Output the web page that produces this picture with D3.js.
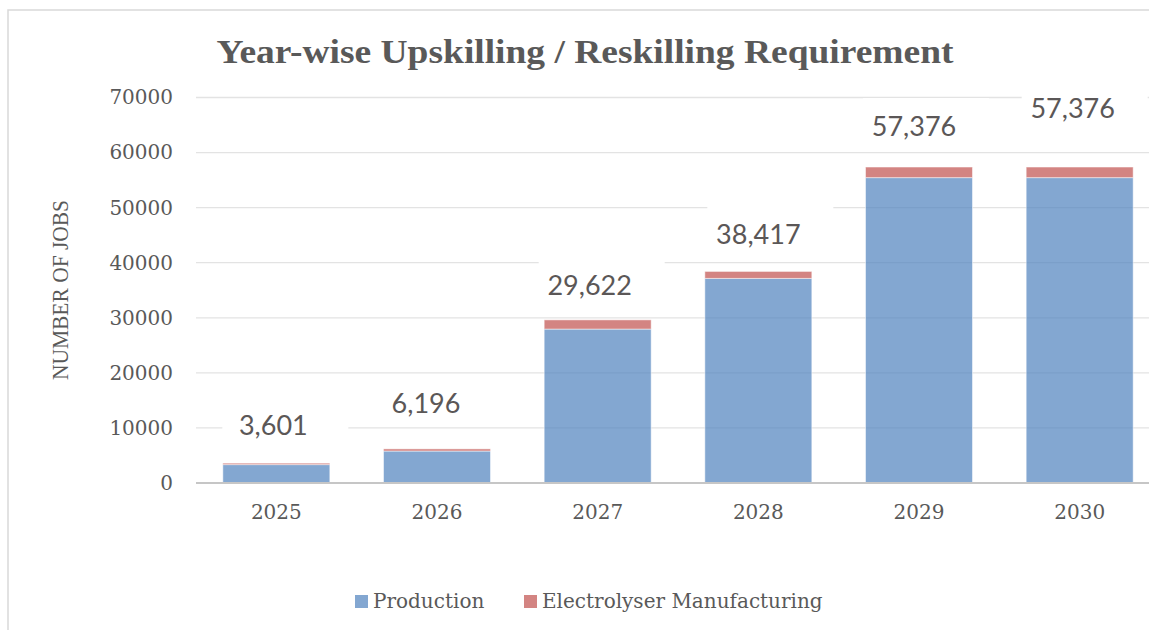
<!DOCTYPE html>
<html>
<head>
<meta charset="utf-8">
<script src="https://cdn.jsdelivr.net/npm/d3@7"></script>
<style>
  html, body { margin: 0; padding: 0; background: #fff; }
  svg { display: block; }
</style>
</head>
<body>
<svg id="chart" width="1149" height="630"></svg>
<script>
// Jobs needing upskilling / reskilling, by year and segment
const years = ["2025", "2026", "2027", "2028", "2029", "2030"];
const production = [3340, 5800, 27950, 37150, 55450, 55450];
const electrolyser = [261, 396, 1672, 1267, 1926, 1926];
const seriesNames = ["Production", "Electrolyser Manufacturing"];
const yTicks = [0, 10000, 20000, 30000, 40000, 50000, 60000, 70000];

// Hand placement of the total labels (nudges in px: dx from bar centre, lift above bar top)
const labelNudge = [
  { dx: -3, lift: 28 }, { dx: -11, lift: 36 }, { dx: -8, lift: 25 },
  { dx: 0, lift: 27 }, { dx: -5, lift: 31 }, { dx: -7, lift: 49 }
];

const colors = ["#4F81BD", "#C0504D"];
const textGrey = "#595959";

const svg = d3.select("#chart");

// Outer chart frame
svg.append("rect")
  .attr("x", 8).attr("y", 10).attr("width", 1400).attr("height", 900)
  .attr("fill", "#fff").attr("stroke", "#d9d9d9").attr("stroke-width", 1.5);

const plot = { left: 196, right: 1160, top: 97.5, bottom: 483 };

const x = d3.scaleBand().domain(years).range([plot.left, plot.right]).paddingInner(0.334).paddingOuter(0.167);
const y = d3.scaleLinear().domain([0, 70000]).range([plot.bottom, plot.top]);

// Gridlines
svg.append("g")
  .selectAll("line")
  .data(yTicks.slice(1))
  .join("line")
  .attr("x1", plot.left).attr("x2", 1149)
  .attr("y1", d => y(d)).attr("y2", d => y(d))
  .attr("stroke", "#e3e3e3").attr("stroke-width", 1.3);

// Stacked bars
const rows = years.map((yr, i) => ({ year: yr, Production: production[i], Electrolyser: electrolyser[i] }));
const stack = d3.stack().keys(["Production", "Electrolyser"]);
const layers = stack(rows);

svg.append("g")
  .selectAll("g")
  .data(layers)
  .join("g")
  .attr("fill", (d, i) => colors[i])
  .attr("fill-opacity", 0.7)
  .selectAll("rect")
  .data(d => d)
  .join("rect")
  .attr("x", d => x(d.data.year))
  .attr("width", x.bandwidth())
  .attr("y", d => y(d[1]))
  .attr("height", d => y(d[0]) - y(d[1]))
  .attr("stroke", "#ffffff").attr("stroke-opacity", 0.5).attr("stroke-width", 1);

// Category axis line
svg.append("line")
  .attr("x1", plot.left).attr("x2", 1149)
  .attr("y1", y(0)).attr("y2", y(0))
  .attr("stroke", "#c6c6c6").attr("stroke-width", 2);

// Y axis tick labels
const yAxis = d3.axisLeft(y).tickValues(yTicks).tickFormat(d3.format("d")).tickSize(0).tickPadding(23);
const gy = svg.append("g").attr("transform", `translate(${plot.left},0)`).call(yAxis);
gy.select(".domain").remove();
gy.selectAll("text")
  .attr("font-family", "'DejaVu Serif', serif").attr("font-size", 20)
  .attr("fill", textGrey);

// X axis tick labels
const xAxis = d3.axisBottom(x).tickSize(0).tickPadding(22);
const gx = svg.append("g").attr("transform", `translate(0,${y(0)})`).call(xAxis);
gx.select(".domain").remove();
gx.selectAll("text")
  .attr("font-family", "'DejaVu Serif', serif").attr("font-size", 20)
  .attr("fill", textGrey);

// Total labels on white boxes
const totals = years.map((yr, i) => production[i] + electrolyser[i]);
const fmt = d3.format(",");
const lbl = svg.append("g");
years.forEach((yr, i) => {
  const cx = x(yr) + x.bandwidth() / 2 + labelNudge[i].dx;
  const base = y(totals[i]) - labelNudge[i].lift;
  lbl.append("rect")
    .attr("x", cx - 51).attr("y", base - 38)
    .attr("width", 126).attr("height", 52)
    .attr("fill", "#fff");
  lbl.append("text")
    .attr("x", cx).attr("y", base)
    .attr("text-anchor", "middle")
    .attr("font-family", "Lato, sans-serif").attr("font-size", 27)
    .attr("fill", "#5b5757")
    .text(fmt(totals[i]));
});

// Title
svg.append("text")
  .attr("x", 585).attr("y", 63)
  .attr("text-anchor", "middle")
  .attr("font-family", "'Liberation Serif', serif").attr("font-weight", "bold")
  .attr("font-size", 34).attr("fill", textGrey)
  .attr("textLength", 737).attr("lengthAdjust", "spacingAndGlyphs")
  .text("Year-wise Upskilling / Reskilling Requirement");

// Y axis title
svg.append("text")
  .attr("transform", "translate(68,290) rotate(-90)")
  .attr("text-anchor", "middle")
  .attr("font-family", "'Liberation Serif', serif")
  .attr("font-size", 24).attr("fill", textGrey)
  .attr("textLength", 180).attr("lengthAdjust", "spacingAndGlyphs")
  .text("NUMBER OF JOBS");

// Legend
const legendItems = [
  { name: seriesNames[0], color: colors[0], x: 355 },
  { name: seriesNames[1], color: colors[1], x: 524 }
];
const lg = svg.append("g");
legendItems.forEach(it => {
  lg.append("rect")
    .attr("x", it.x).attr("y", 595).attr("width", 13).attr("height", 13)
    .attr("fill", it.color).attr("fill-opacity", 0.7);
  lg.append("text")
    .attr("x", it.x + 18).attr("y", 608)
    .attr("font-family", "'DejaVu Serif', serif").attr("font-size", 20)
    .attr("fill", textGrey)
    .text(it.name);
});
</script>
</body>
</html>
